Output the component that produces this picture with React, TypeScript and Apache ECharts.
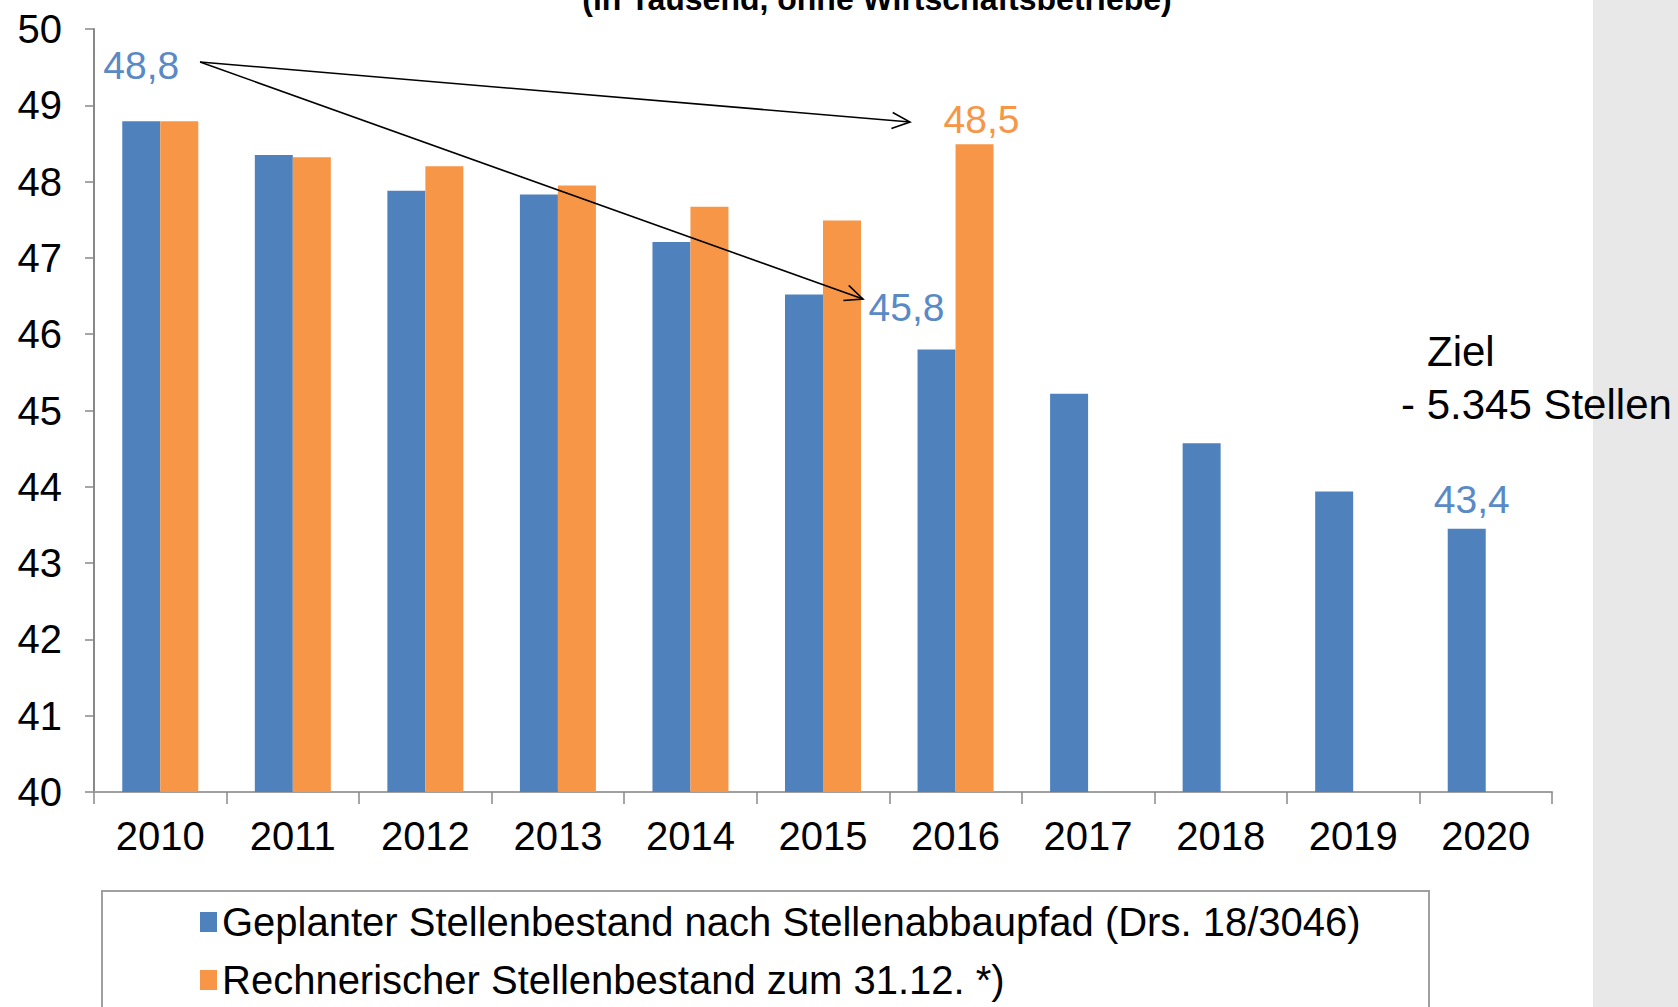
import React, { useEffect, useRef } from "react";
import * as echarts from "echarts";

const years = ["2010", "2011", "2012", "2013", "2014", "2015", "2016", "2017", "2018", "2019", "2020"];
const planned = [48.79, 48.35, 47.88, 47.83, 47.21, 46.52, 45.8, 45.22, 44.57, 43.94, 43.45];
const actual: (number | null)[] = [48.79, 48.32, 48.2, 47.95, 47.67, 47.49, 48.49, null, null, null, null];
const seriesNames = [
  "Geplanter Stellenbestand nach Stellenabbaupfad (Drs. 18/3046)",
  "Rechnerischer Stellenbestand zum 31.12. *)",
];
const titleText = "(in Tausend, ohne Wirtschaftsbetriebe)";
const noteLines = ["Ziel", "- 5.345 Stellen"];
// labelled points: [seriesIndex, dataIndex, text, offsetX, offsetY]
const valueLabels: [number, number, string, number, number][] = [
  [0, 0, "48,8", 0, -31],
  [0, 6, "45,8", -30, -17],
  [1, 6, "48,5", 7, 0],
  [0, 10, "43,4", 5, -5],
];

const BLUE = "#4f81bd";
const ORANGE = "#f79646";
const BLUE_LABEL = "#5a8ac6";
const FONT = "'Liberation Sans', Arial, sans-serif";

function arrow(sx: number, sy: number, ex: number, ey: number) {
  const dx = ex - sx;
  const dy = ey - sy;
  const len = Math.sqrt(dx * dx + dy * dy);
  const ux = dx / len;
  const uy = dy / len;
  const nx = -uy;
  const ny = ux;
  const L = 18;
  const W = 8;
  return [
    {
      type: "line",
      shape: { x1: sx, y1: sy, x2: ex, y2: ey },
      style: { stroke: "#000", lineWidth: 1.6 },
      z: 100,
    },
    {
      type: "polyline",
      shape: {
        points: [
          [ex - L * ux + W * nx, ey - L * uy + W * ny],
          [ex, ey],
          [ex - L * ux - W * nx, ey - L * uy - W * ny],
        ],
      },
      style: { stroke: "#000", lineWidth: 1.6, fill: null },
      z: 100,
    },
  ];
}

export default function App() {
  const ref = useRef<HTMLDivElement>(null);
  useEffect(() => {
    if (!ref.current) return;
    const chart = echarts.init(ref.current, null, { renderer: "svg" });

    const makeData = (si: number, arr: (number | null)[]) =>
      arr.map((v, i) => {
        const lab = valueLabels.find((l) => l[0] === si && l[1] === i);
        if (!lab || v === null) return v;
        return {
          value: v,
          label: {
            show: true,
            position: "top",
            formatter: lab[2],
            offset: [lab[3], lab[4]],
            fontSize: 39,
            fontFamily: FONT,
            color: si === 0 ? BLUE_LABEL : ORANGE,
          },
        };
      });

    chart.setOption({
      animation: false,
      backgroundColor: "#fff",
      grid: { left: 94, right: 126, top: 29, bottom: 215, containLabel: false },
      xAxis: {
        type: "category",
        data: years,
        axisLine: { lineStyle: { color: "#a0a0a0", width: 2 } },
        axisTick: { show: true, length: 12, lineStyle: { color: "#888", width: 1.5 } },
        axisLabel: { fontSize: 40, fontFamily: FONT, color: "#000", margin: 24 },
      },
      yAxis: {
        type: "value",
        min: 40,
        max: 50,
        interval: 1,
        splitLine: { show: false },
        axisLine: { show: true, lineStyle: { color: "#888", width: 2 } },
        axisTick: { show: true, length: 9, lineStyle: { color: "#888", width: 1.5 } },
        axisLabel: { fontSize: 40, fontFamily: FONT, color: "#000", margin: 32 },
      },
      legend: {
        orient: "vertical",
        left: 200,
        top: 902,
        height: 110,
        padding: 0,
        itemWidth: 17,
        itemHeight: 20,
        itemGap: 18,
        icon: "rect",
        textStyle: { fontSize: 40, fontFamily: FONT, color: "#000", lineHeight: 40 },
        data: seriesNames,
      },
      series: [
        {
          name: seriesNames[0],
          type: "bar",
          data: makeData(0, planned),
          barWidth: 38,
          barGap: "0%",
          itemStyle: { color: BLUE },
        },
        {
          name: seriesNames[1],
          type: "bar",
          data: makeData(1, actual),
          barWidth: 38,
          barGap: "0%",
          itemStyle: { color: ORANGE },
        },
      ],
      graphic: [
        {
          type: "rect",
          shape: { x: 1593, y: 0, width: 85, height: 1007 },
          style: { fill: "#e8e8e8" },
          z: -10,
          silent: true,
        },
        {
          type: "rect",
          shape: { x: 102, y: 891, width: 1327, height: 200 },
          style: { fill: null, stroke: "#a0a0a0", lineWidth: 2 },
          z: -5,
          silent: true,
        },
        {
          type: "text",
          x: 877,
          y: 15,
          style: {
            text: titleText,
            fontSize: 32,
            fontWeight: "bold",
            fontFamily: FONT,
            fill: "#000",
            align: "center",
            verticalAlign: "bottom",
          },
        },
        {
          type: "text",
          x: 1427,
          y: 351,
          style: { text: noteLines[0], fontSize: 42, fontFamily: FONT, fill: "#000", align: "left", verticalAlign: "middle" },
          z: 50,
        },
        {
          type: "text",
          x: 1401,
          y: 404,
          style: { text: noteLines[1], fontSize: 42, fontFamily: FONT, fill: "#000", align: "left", verticalAlign: "middle" },
          z: 50,
        },
        ...arrow(200, 62, 910, 122),
        ...arrow(200, 62, 863, 299),
      ],
    });
    return () => chart.dispose();
  }, []);
  return (
    <div
      ref={ref}
      style={{ position: "fixed", left: 0, top: 0, width: 1678, height: 1007 }}
    />
  );
}
